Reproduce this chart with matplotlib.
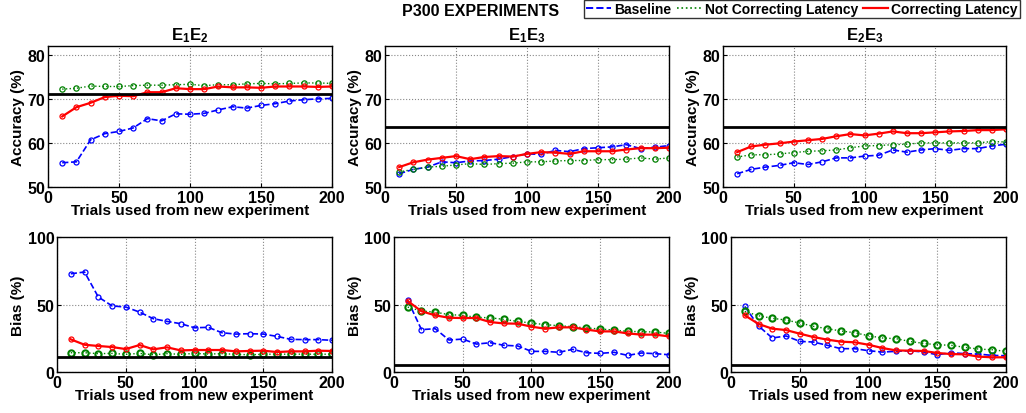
import matplotlib.pyplot as plt
import numpy as np

plt.rcParams["font.family"] = ["Liberation Sans", "DejaVu Sans"]
plt.rcParams["font.weight"] = "bold"
plt.rcParams["mathtext.fontset"] = "custom"
plt.rcParams["mathtext.rm"] = "Liberation Sans:bold"
plt.rcParams["mathtext.bf"] = "Liberation Sans:bold"

trials = [10, 20, 30, 40, 50, 60, 70, 80, 90, 100,
          110, 120, 130, 140, 150, 160, 170, 180, 190, 200]

pair_titles = [r"$\mathbf{E_1E_2}$", r"$\mathbf{E_1E_3}$", r"$\mathbf{E_2E_3}$"]

# accuracy (%)
acc_baseline = [
    [55.5, 55.7, 60.7, 62.1, 62.6, 63.4, 65.5, 65.0, 66.6, 66.5,
     66.7, 67.5, 68.2, 67.9, 68.5, 68.9, 69.5, 69.8, 70.0, 70.1],
    [53.0, 54.0, 54.5, 55.7, 55.5, 55.9, 56.0, 56.3, 56.9, 57.5,
     57.4, 58.3, 58.0, 58.7, 58.9, 59.1, 59.6, 58.7, 59.0, 59.4],
    [53.0, 54.0, 54.5, 54.9, 55.5, 55.1, 55.7, 56.6, 56.6, 57.0,
     57.2, 58.4, 57.9, 58.4, 58.7, 58.3, 58.7, 58.7, 59.3, 59.7],
]
acc_not_correcting = [
    [72.2, 72.4, 72.9, 72.8, 72.8, 73.0, 73.1, 73.1, 73.2, 73.3,
     73.0, 73.2, 73.2, 73.4, 73.5, 73.4, 73.5, 73.6, 73.6, 73.5],
    [53.4, 54.0, 54.5, 54.7, 55.0, 55.3, 55.1, 55.3, 55.4, 55.7,
     55.7, 55.9, 56.0, 56.0, 56.2, 56.2, 56.3, 56.6, 56.3, 56.6],
    [56.8, 57.3, 57.3, 57.5, 57.8, 58.1, 58.2, 58.4, 58.9, 59.3,
     59.4, 59.6, 59.7, 60.0, 60.0, 60.0, 60.0, 60.0, 60.3, 60.2],
]
acc_correcting = [
    [66.0, 68.1, 69.1, 70.4, 70.7, 70.6, 71.5, 71.5, 72.4, 72.2,
     72.2, 72.8, 72.6, 72.6, 72.5, 72.8, 72.8, 72.8, 72.7, 72.8],
    [54.5, 55.6, 56.2, 56.6, 57.0, 56.3, 56.8, 57.0, 56.9, 57.5,
     57.9, 57.8, 57.5, 58.1, 58.1, 58.1, 58.5, 58.8, 58.8, 58.9],
    [57.9, 59.2, 59.6, 59.9, 60.3, 60.6, 60.9, 61.5, 62.0, 61.7,
     62.1, 62.6, 62.2, 62.2, 62.4, 62.6, 62.7, 62.9, 62.9, 63.1],
]
acc_reference = [71.0, 63.7, 63.7]

# bias (%)
bias_baseline = [
    [72.8, 74.1, 55.6, 49.0, 48.1, 44.4, 39.5, 37.5, 35.8, 32.8,
     33.1, 29.1, 28.1, 28.4, 28.1, 26.4, 24.2, 24.0, 24.0, 23.5],
    [53.1, 31.4, 32.1, 23.7, 24.4, 20.7, 21.7, 19.8, 19.3, 15.3,
     15.3, 14.6, 16.8, 14.3, 13.8, 14.6, 12.3, 14.1, 13.6, 12.8],
    [48.6, 34.1, 25.2, 26.7, 22.7, 22.2, 19.8, 17.3, 17.3, 15.8,
     14.8, 15.3, 15.8, 14.8, 12.8, 14.3, 13.6, 13.3, 12.3, 12.1],
]
bias_not_correcting = [
    [14.3, 14.3, 13.6, 13.8, 13.1, 13.8, 12.8, 13.6, 13.1, 13.8,
     13.3, 13.6, 13.1, 12.8, 13.1, 13.3, 13.1, 13.3, 13.1, 13.3],
    [48.1, 45.2, 44.4, 42.5, 42.0, 40.5, 40.2, 39.0, 37.5, 36.3,
     35.1, 34.3, 33.6, 32.6, 31.9, 31.1, 30.1, 29.9, 29.6, 28.6],
    [44.9, 41.7, 39.8, 38.5, 36.3, 33.8, 32.1, 30.4, 29.1, 26.9,
     25.2, 24.7, 22.7, 21.2, 20.2, 19.8, 18.3, 17.0, 16.5, 15.3],
]
bias_correcting = [
    [24.2, 20.2, 19.3, 18.5, 17.0, 20.0, 16.8, 18.3, 16.0, 16.3,
     16.3, 16.3, 15.3, 15.6, 15.8, 14.8, 15.3, 15.3, 15.8, 15.6],
    [52.6, 45.0, 42.0, 40.2, 40.0, 40.0, 37.0, 36.0, 35.8, 33.6,
     32.1, 33.1, 33.1, 31.4, 30.1, 30.1, 28.6, 27.7, 27.7, 26.4],
    [42.0, 35.6, 32.1, 31.1, 28.4, 25.9, 24.0, 22.5, 22.0, 20.2,
     17.8, 16.0, 15.8, 15.6, 14.1, 13.3, 13.1, 11.4, 10.9, 10.9],
]
bias_reference = [11.1, 4.9, 4.9]

legend_labels = ["Baseline", "Not Correcting Latency", "Correcting Latency"]

top_positions = [
    [0.0468, 0.546, 0.2768, 0.3406],
    [0.3752, 0.546, 0.2768, 0.3406],
    [0.7047, 0.546, 0.2758, 0.3406],
]
bottom_positions = [
    [0.0556, 0.099, 0.2680, 0.326],
    [0.3840, 0.099, 0.2680, 0.326],
    [0.7125, 0.099, 0.2680, 0.326],
]


def draw_panel(ax, base, notcorr, corr, ref, ylim, yticks, ylabel, green_mew, green_ms):
    ax.plot(trials, base, color="blue", linestyle="--", linewidth=1.2,
            marker="o", markersize=3.6, markerfacecolor="none", markeredgewidth=0.9)
    ax.plot(trials, notcorr, color="green", linestyle=":", linewidth=1.0,
            marker="o", markersize=green_ms, markerfacecolor="none",
            markeredgewidth=green_mew)
    ax.plot(trials, corr, color="red", linestyle="-", linewidth=1.6,
            marker="o", markersize=3.6, markerfacecolor="none", markeredgewidth=0.9)
    ax.axhline(ref, color="black", linewidth=2.0)

    ax.set_xlim(0, 200)
    ax.set_ylim(*ylim)
    ax.set_xticks([0, 50, 100, 150, 200])
    ax.set_yticks(yticks)
    ax.grid(True, color="#888888", linestyle=":", linewidth=0.8)
    ax.tick_params(direction="in", length=3, labelsize=11.5, pad=2)
    for lab in ax.get_xticklabels() + ax.get_yticklabels():
        lab.set_fontweight("bold")
    for spine in ax.spines.values():
        spine.set_linewidth(1.0)
    ax.set_ylabel(ylabel, fontsize=11, fontweight="bold", labelpad=2)
    ax.set_xlabel("Trials used from new experiment", fontsize=11,
                  fontweight="bold", labelpad=-1)


fig = plt.figure(figsize=(10.26, 4.14), dpi=100)

for i in range(3):
    ax = fig.add_axes(top_positions[i])
    draw_panel(ax, acc_baseline[i], acc_not_correcting[i], acc_correcting[i],
               acc_reference[i], (50, 82), [50, 60, 70, 80], "Accuracy (%)",
               0.9, 3.8)
    ax.set_title(pair_titles[i], fontsize=12, pad=5)

    ax = fig.add_axes(bottom_positions[i])
    draw_panel(ax, bias_baseline[i], bias_not_correcting[i], bias_correcting[i],
               bias_reference[i], (0, 100), [0, 50, 100], "Bias (%)",
               1.5, 4.5)

fig.text(0.468, 0.973, "P300 EXPERIMENTS", ha="center", va="center",
         fontsize=11.5, fontweight="bold")

handles = [
    plt.Line2D([], [], color="blue", linestyle="--", linewidth=1.4),
    plt.Line2D([], [], color="green", linestyle=":", linewidth=1.2),
    plt.Line2D([], [], color="red", linestyle="-", linewidth=1.6),
]
leg = fig.legend(handles, legend_labels, ncol=3, loc="upper right",
                 bbox_to_anchor=(0.994, 0.997), fontsize=10, frameon=True,
                 fancybox=False, edgecolor="black", handlelength=1.8,
                 handletextpad=0.2, columnspacing=0.4, borderpad=0.15,
                 borderaxespad=0.0)
leg.get_frame().set_linewidth(1.0)
for t in leg.get_texts():
    t.set_fontweight("bold")

plt.savefig("out.png", dpi=100)
plt.close()
